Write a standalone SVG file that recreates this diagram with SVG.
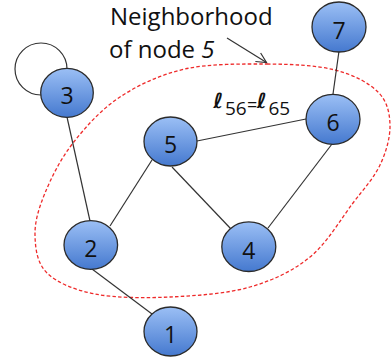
<svg xmlns="http://www.w3.org/2000/svg" width="391" height="364" viewBox="0 0 391 364">
  <style>
    .edge { stroke: #333; stroke-width: 1.2; fill: none; }
    .node ellipse { fill: url(#nodeFill); stroke: #2b2b2b; stroke-width: 1.3; }
    .node text { font-family: "Open Sans", "Liberation Sans", sans-serif; font-size: 23px; fill: #111; text-anchor: middle; }
    .title { font-family: "Open Sans", "Liberation Sans", sans-serif; font-size: 24px; fill: #111; }
    .hood { fill: none; stroke: #ee2a2a; stroke-width: 1.3; stroke-dasharray: 3.5 2.2; }
    .lab { font-family: "Open Sans", "Liberation Sans", sans-serif; fill: #111; font-size: 19px; }
    .ell { font-family: "DejaVu Sans", "Liberation Sans", sans-serif; font-style: oblique; font-weight: bold; font-size: 21px; }
  </style>
  <defs>
    <linearGradient id="nodeFill" x1="0" y1="0" x2="0" y2="1">
      <stop offset="0" stop-color="#9bbff5"/>
      <stop offset="1" stop-color="#4579cf"/>
    </linearGradient>
    <marker id="openArrow" markerWidth="14" markerHeight="14" refX="11" refY="6" orient="auto" markerUnits="userSpaceOnUse">
      <path d="M1,1 L11,6 L1,11" fill="none" stroke="#333" stroke-width="1.2"/>
    </marker>
  </defs>

  <rect width="391" height="364" fill="#ffffff"/>

  <g id="neighborhood">
    <path class="hood" d="M267,64 C292,64.2 316.5,65.3 335,70 C353.5,74.7 368.8,82.8 378,92 C387.2,101.2 389.7,112.8 390,125 C390.3,137.2 386.2,152 380,165 C373.8,178 364.7,187.7 353,203 C341.3,218.3 327.2,243 310,257 C292.8,271 273.3,280.3 250,287 C226.7,293.7 195.8,295.8 170,297 C144.2,298.2 115.5,298 95,294 C74.5,290 57,282.8 47,273 C37,263.2 35.3,248.3 35,235 C34.7,221.7 38.7,208.3 45,193 C51.3,177.7 60.5,159 73,143 C85.5,127 101.3,109.3 120,97 C138.7,84.7 160.5,74.5 185,69 C209.5,63.5 242,64 267,64 Z"/>
  </g>

  <g id="connectors">
    <circle class="edge" cx="41" cy="69" r="26"/>
    <line class="edge" x1="67" y1="117" x2="90" y2="221"/>
    <line class="edge" x1="110" y1="226" x2="152" y2="160"/>
    <line class="edge" x1="92" y1="269" x2="152" y2="314"/>
    <line class="edge" x1="172" y1="167" x2="231" y2="229"/>
    <line class="edge" x1="197" y1="141" x2="306" y2="119"/>
    <line class="edge" x1="332" y1="144" x2="268" y2="228"/>
    <line class="edge" x1="339" y1="51" x2="333" y2="94"/>
    <line class="edge" x1="227" y1="38" x2="266.5" y2="62.5" marker-end="url(#openArrow)"/>
  </g>

  <g id="node-1" class="node"><ellipse cx="170.5" cy="331.5" rx="26.5" ry="24.5"/><text x="170.5" y="343">1</text></g>
  <g id="node-2" class="node"><ellipse cx="90.8" cy="245" rx="26.8" ry="24.3"/><text x="90.8" y="256.5">2</text></g>
  <g id="node-3" class="node"><ellipse cx="67" cy="92.8" rx="26.3" ry="24.5"/><text x="67" y="104.3">3</text></g>
  <g id="node-4" class="node"><ellipse cx="248.8" cy="246.7" rx="27" ry="24.8"/><text x="248.8" y="258.5">4</text></g>
  <g id="node-5" class="node"><ellipse cx="170.5" cy="141.5" rx="26.5" ry="24.5"/><text x="170.5" y="153">5</text></g>
  <g id="node-6" class="node"><ellipse cx="333" cy="119.3" rx="27" ry="25"/><text x="333" y="131">6</text></g>
  <g id="node-7" class="node"><ellipse cx="339" cy="27" rx="27" ry="25"/><text x="339" y="38.5">7</text></g>

  <g id="labels">
    <text class="title" x="110" y="25.3" font-size="23.5">Neighborhood</text>
    <text class="title" x="109" y="57.5">of node <tspan font-style="italic">5</tspan></text>
    <text class="lab" fill="#111"><tspan class="ell" x="213.5" y="108">ℓ</tspan><tspan x="225" y="115">56</tspan><tspan x="247" y="111" font-size="18">=</tspan><tspan class="ell" x="257" y="108">ℓ</tspan><tspan x="268.5" y="115">65</tspan></text>
  </g>
</svg>
